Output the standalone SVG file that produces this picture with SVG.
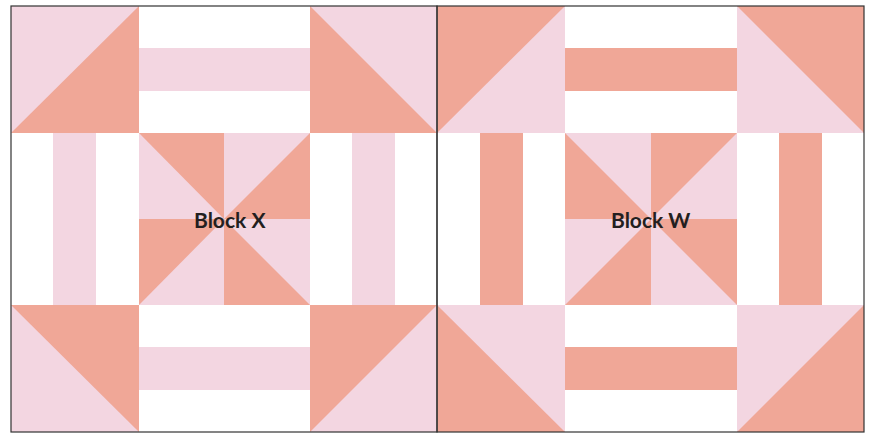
<svg xmlns="http://www.w3.org/2000/svg" width="870" height="433" viewBox="0 0 870 433">
<style>
.p{fill:#F3D6E1}
.s{fill:#F0A797}
.w{fill:#FFFFFF}
.b{fill:none;stroke:#333333;stroke-width:1.2}
.t{font-family:Lato,"Open Sans",sans-serif;font-weight:bold;font-size:21px;fill:#231F20}
</style>
<rect width="870" height="433" fill="#FFFFFF"/>
<g id="blockX">
  <!-- corners -->
  <rect class="p" x="11" y="6" width="128" height="127"/>
  <polygon class="s" points="139,6 139,133 11,133"/>
  <rect class="p" x="310" y="6" width="127" height="127"/>
  <polygon class="s" points="310,6 310,133 437,133"/>
  <rect class="p" x="11" y="305" width="128" height="127"/>
  <polygon class="s" points="11,305 139,305 139,432"/>
  <rect class="p" x="310" y="305" width="127" height="127"/>
  <polygon class="s" points="310,305 437,305 310,432"/>
  <!-- stripes -->
  <rect class="p" x="139" y="48" width="171" height="43"/>
  <rect class="p" x="139" y="347" width="171" height="43"/>
  <rect class="p" x="53" y="133" width="43" height="172"/>
  <rect class="p" x="352" y="133" width="43" height="172"/>
  <!-- pinwheel -->
  <rect class="p" x="139" y="133" width="171" height="172"/>
  <polygon class="s" points="139,133 224,133 224,219"/>
  <polygon class="s" points="310,133 310,219 224,219"/>
  <polygon class="s" points="139,219 224,219 139,305"/>
  <polygon class="s" points="224,219 224,305 310,305"/>
  <text class="t" x="194" y="228">Block X</text>
</g>
<g id="blockW">
  <rect class="p" x="437" y="6" width="128" height="127"/>
  <polygon class="s" points="437,6 565,6 437,133"/>
  <rect class="p" x="737" y="6" width="127" height="127"/>
  <polygon class="s" points="737,6 864,6 864,133"/>
  <rect class="p" x="437" y="305" width="128" height="127"/>
  <polygon class="s" points="437,305 437,432 565,432"/>
  <rect class="p" x="737" y="305" width="127" height="127"/>
  <polygon class="s" points="864,305 864,432 737,432"/>
  <rect class="s" x="565" y="48" width="172" height="43"/>
  <rect class="s" x="565" y="347" width="172" height="43"/>
  <rect class="s" x="480" y="133" width="43" height="172"/>
  <rect class="s" x="779" y="133" width="43" height="172"/>
  <rect class="p" x="565" y="133" width="172" height="172"/>
  <polygon class="s" points="565,133 565,219 651,219"/>
  <polygon class="s" points="651,133 737,133 651,219"/>
  <polygon class="s" points="651,219 651,305 565,305"/>
  <polygon class="s" points="651,219 737,219 737,305"/>
  <text class="t" x="611" y="228">Block W</text>
</g>
<g id="borders">
  <rect class="b" x="11" y="6" width="426" height="426"/>
  <rect class="b" x="437" y="6" width="427" height="426"/>
</g>
</svg>
